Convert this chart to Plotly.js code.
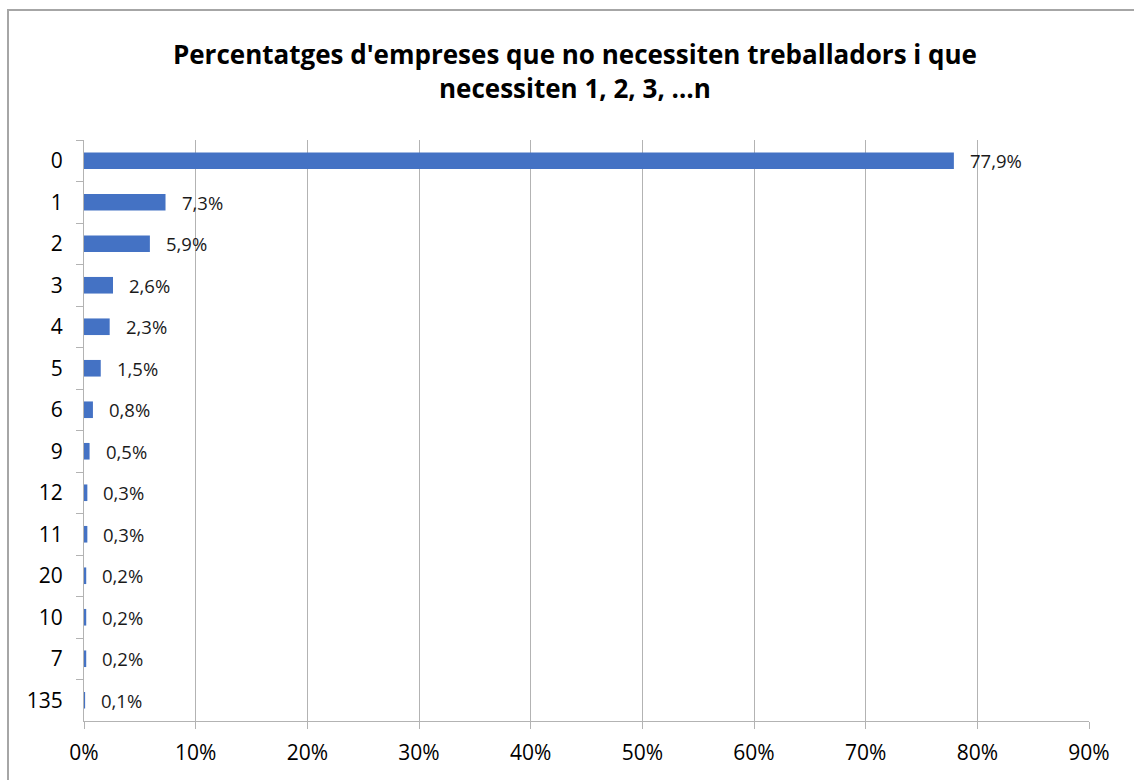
<!DOCTYPE html>
<html>
<head>
<meta charset="utf-8">
<script src="https://cdn.plot.ly/plotly-3.0.1.min.js"></script>
<style>
  html, body { margin: 0; padding: 0; background: #fff; }
  #wrap { position: relative; width: 1134px; height: 780px; }
  #chart { position: absolute; left: 0; top: 0; width: 1134px; height: 780px; }
  #frame { position: absolute; left: 7px; top: 9px; width: 1127px; height: 771px;
           border-left: 2px solid #a6a6a6; border-top: 2px solid #a6a6a6; pointer-events: none; }
</style>
</head>
<body>
<div id="wrap">
  <div id="chart"></div>
  <div id="frame"></div>
</div>
<script>
const categories = ['0', '1', '2', '3', '4', '5', '6', '9', '12', '11', '20', '10', '7', '135'];
const percentages = [77.9, 7.3, 5.9, 2.6, 2.3, 1.5, 0.8, 0.5, 0.3, 0.3, 0.2, 0.2, 0.2, 0.1];
const xTickValues = [0, 10, 20, 30, 40, 50, 60, 70, 80, 90];
const xTickLabels = ['0%', '10%', '20%', '30%', '40%', '50%', '60%', '70%', '80%', '90%'];
const chartTitle = "Percentatges d'empreses que no necessiten treballadors i que<br>necessiten 1, 2, 3, …n";

const fontFamily = '"Open Sans", Lato, sans-serif';
const gridColor = '#b3b3b3';

const labels = percentages.map(v => v.toFixed(1).replace('.', ',') + '%');

const trace = {
  type: 'bar',
  orientation: 'h',
  x: percentages,
  y: categories,
  marker: { color: '#4472C4' },
  hoverinfo: 'x+y',
  showlegend: false
};

// category axis: annotation positions use the category's serial index
const annotations = percentages.map((v, i) => ({
  x: v, y: i, xref: 'x', yref: 'y',
  text: labels[i], showarrow: false,
  xanchor: 'left', yanchor: 'middle', xshift: 14,
  font: { family: fontFamily, size: 18.5, color: '#1a1a1a' }
}));

const layout = {
  width: 1134, height: 780,
  paper_bgcolor: '#ffffff', plot_bgcolor: '#ffffff',
  margin: { l: 84, r: 45, t: 140, b: 59, pad: 0 },
  bargap: 0.6,
  separators: ',.',
  title: {
    text: chartTitle,
    x: 0.507, xanchor: 'center', xref: 'container',
    y: 0.918, yanchor: 'middle', yref: 'container',
    font: { family: fontFamily, size: 26, color: '#000', weight: 'bold' }
  },
  xaxis: {
    range: [0, 90],
    tickvals: xTickValues,
    ticktext: xTickLabels,
    showgrid: true, gridcolor: gridColor, gridwidth: 1,
    showline: true, linecolor: gridColor, linewidth: 1,
    ticks: 'outside', ticklen: 7, tickcolor: gridColor,
    ticklabelstandoff: 6,
    zeroline: false,
    tickfont: { family: fontFamily, size: 21, color: '#000' },
    fixedrange: true
  },
  yaxis: {
    type: 'category',
    categoryorder: 'array',
    categoryarray: categories,
    range: [categories.length - 0.5, -0.5],
    autorange: false,
    showgrid: false,
    showline: true, linecolor: gridColor, linewidth: 1,
    ticks: 'outside', ticklen: 7, tickcolor: gridColor,
    tickson: 'boundaries',
    ticklabelstandoff: 16,
    zeroline: false,
    tickfont: { family: fontFamily, size: 21, color: '#000' },
    fixedrange: true
  },
  annotations: annotations
};

Plotly.newPlot('chart', [trace], layout, { displayModeBar: false, staticPlot: true });
</script>
</body>
</html>
